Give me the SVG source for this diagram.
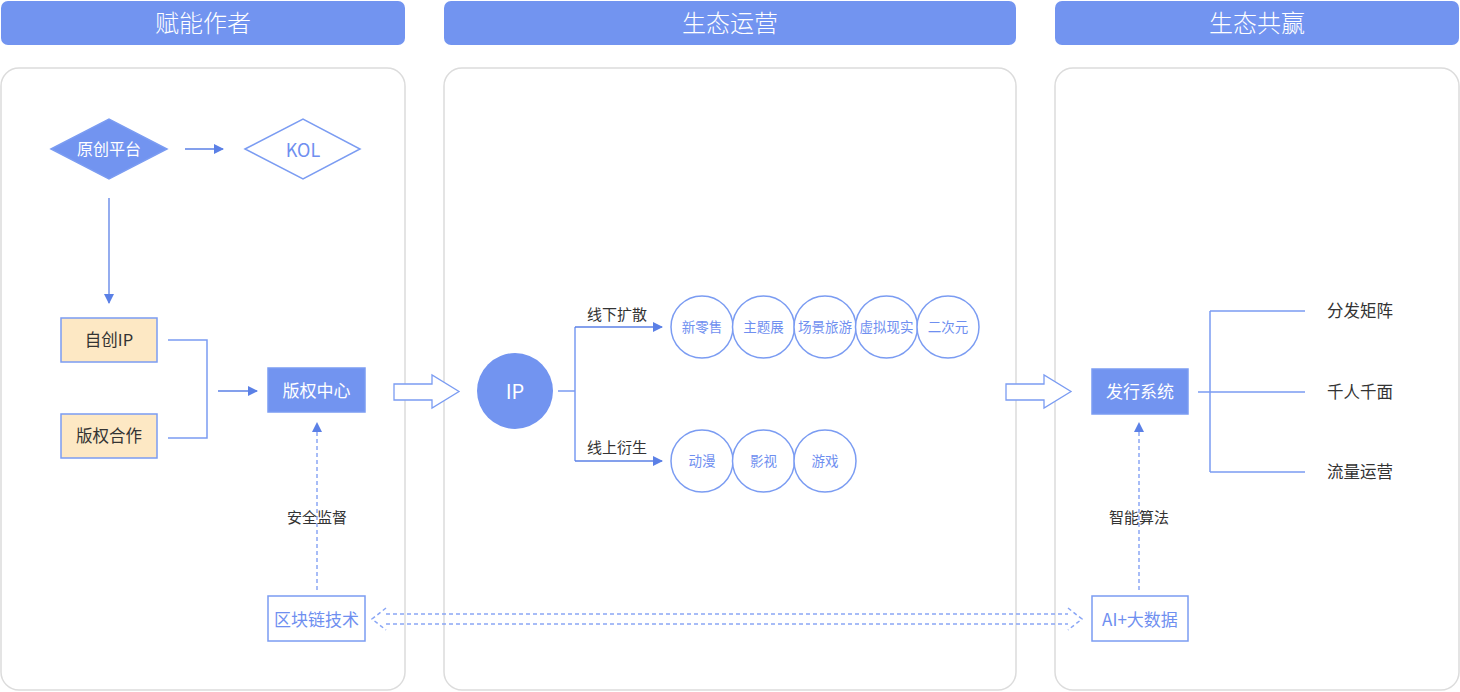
<svg xmlns="http://www.w3.org/2000/svg" width="1460" height="692" viewBox="0 0 1460 692">
<defs>
<marker id="ah" viewBox="0 0 10 10" refX="9" refY="5" markerWidth="10" markerHeight="10" markerUnits="userSpaceOnUse" orient="auto"><path d="M0,0 L10,5 L0,10 z" fill="#5b80e6"/></marker>
<style>
text{font-family:"Noto Sans CJK SC","Noto Sans",sans-serif;text-anchor:middle;dominant-baseline:central}
.hdr{fill:#7294f0}
.hdt{fill:#fff;font-size:24px;font-weight:300}
.panel{fill:#fff;stroke:#dcdcdc;stroke-width:1.5}
.solid{fill:#7294f0;stroke:#7b9cf2;stroke-width:1.5}
.wt{fill:#fff;font-size:17px}
.out{fill:#fff;stroke:#7b9cf2;stroke-width:1.5}
.bt{fill:#6f8ff0;font-size:17px}
.orange{fill:#fde8c4;stroke:#7b9cf2;stroke-width:1.5}
.dk{fill:#333;font-size:16.5px}
.lb{fill:#333;font-size:15px}
.ln{fill:none;stroke:#7b9cf2;stroke-width:1.5}
.arr{fill:none;stroke:#5b80e6;stroke-width:1.3;marker-end:url(#ah)}
.dash{fill:none;stroke:#8aa6f5;stroke-width:1.5;stroke-dasharray:4 3}
.circ{fill:#fff;stroke:#7b9cf2;stroke-width:1.5}
.ct{fill:#6f8ff0;font-size:13.5px}
.blk{fill:#fff;stroke:#7b9cf2;stroke-width:1.3}
</style>
</defs>

<g id="headers">
<rect class="hdr" x="1" y="1" width="404" height="44" rx="7"/>
<text class="hdt" x="203" y="21">赋能作者</text>
<rect class="hdr" x="444" y="1" width="572" height="44" rx="7"/>
<text class="hdt" x="730" y="21">生态运营</text>
<rect class="hdr" x="1055" y="1" width="404" height="44" rx="7"/>
<text class="hdt" x="1257" y="21">生态共赢</text>
</g>

<g id="panels">
<rect class="panel" x="1" y="68" width="404" height="622" rx="18"/>
<rect class="panel" x="444" y="68" width="572" height="622" rx="18"/>
<rect class="panel" x="1055" y="68" width="404" height="622" rx="18"/>
</g>

<g id="connectors">
<path class="arr" d="M185,149 H223"/>
<path class="arr" d="M109,198 V303"/>
<path class="ln" d="M168,340 H207 V438 H168"/>
<path class="arr" d="M218,391 H257"/>
<path class="dash" d="M317,590 V432"/>
<path d="M312,432 L317,422 L322,432 z" fill="#5b80e6"/>
<path class="blk" d="M394,384 H432 V375 L459,391.5 L432,408 V400 H394 z"/>
<path class="ln" d="M558,391 H575 M575,327 V461"/>
<path class="arr" d="M575,327 H662"/>
<path class="arr" d="M575,461 H662"/>
<path class="blk" d="M1006,384 H1044 V375 L1071,391.5 L1044,408 V400 H1006 z"/>
<path class="ln" d="M1198,392 H1305 M1210,311 V472 M1210,311 H1305 M1210,472 H1305"/>
<path class="dash" d="M1139,590 V432"/>
<path d="M1134,432 L1139,422 L1144,432 z" fill="#5b80e6"/>
<path class="dash" d="M386,614 H1068 M386,624 H1068 M386,608 L372,619 L386,630 M1068,608 L1082,619 L1068,630"/>
<text class="lb" x="317" y="516">安全监督</text>
<text class="lb" x="617" y="313">线下扩散</text>
<text class="lb" x="617" y="446">线上衍生</text>
<text class="lb" x="1139" y="516">智能算法</text>
</g>

<g id="n-yuanchuang">
<path class="solid" d="M51,149 L109,119 L167,149 L109,179 z"/>
<text class="wt" x="109" y="148" style="font-size:16px">原创平台</text>
</g>
<g id="n-kol">
<path class="out" d="M245,149 L303,119 L360,149 L303,179 z"/>
<text class="bt" x="303" y="149" style="font-size:18px">KOL</text>
</g>
<g id="n-zichuang">
<rect class="orange" x="61" y="318" width="96" height="44"/>
<text class="dk" x="109" y="339">自创IP</text>
</g>
<g id="n-banquanhezuo">
<rect class="orange" x="61" y="414" width="96" height="44"/>
<text class="dk" x="109" y="435">版权合作</text>
</g>
<g id="n-banquanzhongxin">
<rect class="solid" x="268" y="368" width="97" height="44"/>
<text class="wt" x="316.5" y="389">版权中心</text>
</g>
<g id="n-qukuailian">
<rect class="out" x="268" y="596" width="97" height="45"/>
<text class="bt" x="316.5" y="618">区块链技术</text>
</g>
<g id="n-ip">
<circle cx="515" cy="391" r="38" fill="#7294f0"/>
<text class="wt" x="515" y="390" style="font-size:20px">IP</text>
</g>
<g id="n-xinlingshou"><circle class="circ" cx="702" cy="327" r="31"/><text class="ct" x="702" y="326">新零售</text></g>
<g id="n-zhutizhan"><circle class="circ" cx="763.5" cy="327" r="31"/><text class="ct" x="763.5" y="326">主题展</text></g>
<g id="n-changjing"><circle class="circ" cx="825" cy="327" r="31"/><text class="ct" x="825" y="326">场景旅游</text></g>
<g id="n-xuni"><circle class="circ" cx="886.5" cy="327" r="31"/><text class="ct" x="886.5" y="326">虚拟现实</text></g>
<g id="n-erciyuan"><circle class="circ" cx="948" cy="327" r="31"/><text class="ct" x="948" y="326">二次元</text></g>
<g id="n-dongman"><circle class="circ" cx="702" cy="461" r="31"/><text class="ct" x="702" y="460">动漫</text></g>
<g id="n-yingshi"><circle class="circ" cx="763.5" cy="461" r="31"/><text class="ct" x="763.5" y="460">影视</text></g>
<g id="n-youxi"><circle class="circ" cx="825" cy="461" r="31"/><text class="ct" x="825" y="460">游戏</text></g>
<g id="n-faxing">
<rect class="solid" x="1092" y="369" width="96" height="45"/>
<text class="wt" x="1140" y="390.5">发行系统</text>
</g>
<g id="n-ai">
<rect class="out" x="1092" y="596" width="96" height="45"/>
<text class="bt" x="1140" y="618">AI+大数据</text>
</g>
<g id="n-fenfa"><text class="dk" x="1360" y="310">分发矩阵</text></g>
<g id="n-qianren"><text class="dk" x="1360" y="391">千人千面</text></g>
<g id="n-liuliang"><text class="dk" x="1360" y="471">流量运营</text></g>
</svg>
